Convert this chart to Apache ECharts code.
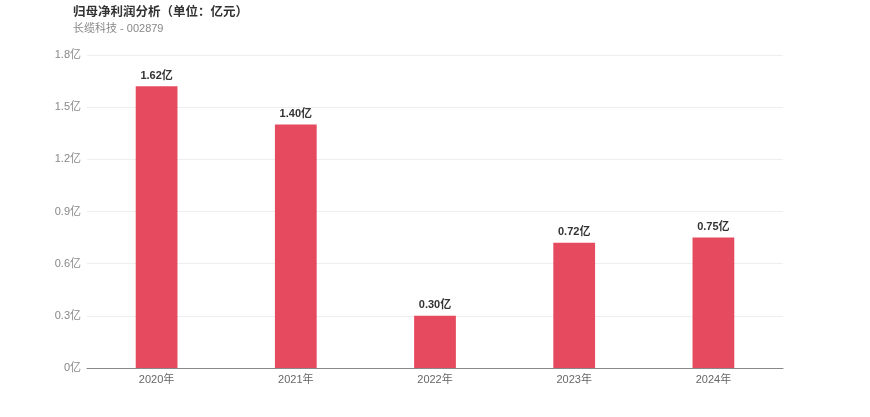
<!DOCTYPE html>
<html><head><meta charset="utf-8">
<script src="https://cdn.jsdelivr.net/npm/echarts@6/dist/echarts.min.js"></script>
<style>html,body{margin:0;padding:0;background:#fff}#c{width:870px;height:417px}</style>
</head><body><div id="c"></div>
<script>
var categories = ['2020年','2021年','2022年','2023年','2024年'];
var values = [1.62, 1.40, 0.30, 0.72, 0.75];
var FF = '"Liberation Sans", "Noto Sans CJK SC", sans-serif';
var chart = echarts.init(document.getElementById('c'));
chart.setOption({
  animation:false,
  title:{text:'归母净利润分析（单位：亿元）',subtext:'长缆科技 - 002879',left:68,top:1,itemGap:5,
    textStyle:{fontSize:12.5,fontWeight:'bold',color:'#333',fontFamily:FF},
    subtextStyle:{fontSize:11,color:'#888',fontFamily:FF}},
  grid:{left:87,right:87,top:55,bottom:49},
  xAxis:{type:'category',data:categories,axisTick:{show:false},
    axisLine:{lineStyle:{color:'#888'}},
    axisLabel:{color:'#666',fontSize:11,margin:6,fontFamily:FF}},
  yAxis:{type:'value',min:0,max:1.8,interval:0.3,
    axisLabel:{formatter:function(v){return (+v.toFixed(1))+'亿';},color:'#888',fontSize:11,margin:6,fontFamily:FF},
    splitLine:{lineStyle:{color:'#eee'}}},
  series:[{type:'bar',data:values,barWidth:'30%',itemStyle:{color:'#E64A5E'},
    label:{show:true,position:'top',formatter:function(p){return p.value.toFixed(2)+'亿';},
      fontWeight:'bold',fontSize:11,color:'#333',fontFamily:FF}}]
});
</script></body></html>
